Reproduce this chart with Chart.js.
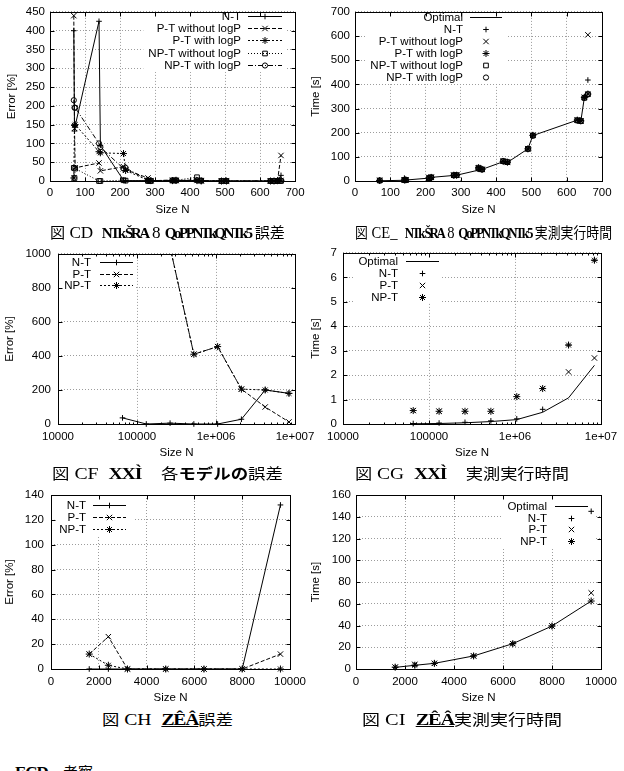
<!DOCTYPE html>
<html><head><meta charset="utf-8">
<script src="https://cdn.jsdelivr.net/npm/chart.js@4.4.0/dist/chart.umd.min.js"></script>
<style>
html,body{margin:0;padding:0;background:#fff;}
body{width:624px;height:771px;position:relative;overflow:hidden;}
canvas{position:absolute;}
.cap{position:absolute;font-family:"Liberation Serif","Noto Sans CJK JP",serif;font-size:17px;line-height:18px;color:#000;white-space:nowrap;transform-origin:0 50%;}
.j{font-family:"Noto Sans CJK JP",sans-serif;font-size:15px;}
.g{font-weight:bold;letter-spacing:-1px;}
.n{font-weight:bold;letter-spacing:-2.5px;font-size:15px;}
</style></head><body>
<canvas id="c1" width="312" height="217" style="left:0;top:0"></canvas>
<canvas id="c2" width="315" height="217" style="left:309px;top:0"></canvas>
<canvas id="c3" width="330" height="220" style="left:0;top:240px"></canvas>
<canvas id="c4" width="315" height="220" style="left:309px;top:240px"></canvas>
<canvas id="c5" width="312" height="225" style="left:0;top:480px"></canvas>
<canvas id="c6" width="315" height="225" style="left:309px;top:480px"></canvas>

<div class="cap" data-x="50" data-w="235" style="top:223px"><span class="j">図</span> CD&ensp;<span class="n">NTk ŠRA</span> 8 <span class="n">QoPPNTkQNTk5</span> <span class="j">誤差</span></div>
<div class="cap" data-x="355" data-w="257" style="top:223px"><span class="j">図</span> CE_&ensp;<span class="n">NTk ŠRA</span> 8 <span class="n">QoPPNTkQNTk5</span> <span class="j">実測実行時間</span></div>
<div class="cap" data-x="52" data-w="231" style="top:464px"><span class="j">図</span> CF&ensp;<span class="g">XXÌ</span>&emsp;<span class="j">各<b>モデルの</b>誤差</span></div>
<div class="cap" data-x="355" data-w="214" style="top:464px"><span class="j">図</span> CG&ensp;<span class="g">XXÌ</span>&emsp;<span class="j">実測実行時間</span></div>
<div class="cap" data-x="102" data-w="131" style="top:710px"><span class="j">図</span> CH&ensp;<span class="g"><u>ZÊÂ</u></span><span class="j">誤差</span></div>
<div class="cap" data-x="362" data-w="200" style="top:710px"><span class="j">図</span> CI&ensp;<span class="g"><u>ZÊÂ</u></span><span class="j">実測実行時間</span></div>
<div style="position:absolute;left:15px;top:764px;font-size:15px;line-height:16px;white-space:nowrap;"><span class="g" style="font-family:'Liberation Serif',serif;font-size:17px">ECD</span>&emsp;<span class="j">考察</span></div>

<script>
// ---------- data ----------
// Figure 1/2 (top row)
const sizeErrA = [68, 70, 72, 140, 144, 210, 216, 280, 288, 350, 360, 420, 432, 490, 504, 630, 640, 650, 660];
const errA_NT    = [400, 133, 147, 425, 95, 2, 1, 1, 0, 1, 1, 1, 0, 0, 0, 0, 0, 1, 15];
const errA_PTwo  = [440, 140, 35, 48, 27, 38, 30, 8, 1, 2, 1, 3, 1, 0, 0, 0, 0, 1, 68];
const errA_PTw   = [8, 148, 150, 78, 75, 73, 28, 2, 1, 1, 2, 1, 0, 0, 0, 0, 0, 1, 2];
const errA_NPTwo = [35, 8, 33, 0, 0, 2, 1, 0, 0, 1, 2, 10, 1, 0, 0, 0, 0, 0, 0];
const errA_NPTw  = [215, 195, 195, 100, 90, 33, 35, 2, 1, 2, 1, 2, 1, 0, 0, 0, 0, 0, 1];

const sizeTimeA = [70, 140, 144, 210, 216, 280, 288, 350, 360, 420, 432, 490, 504, 630, 640, 650, 660];
const timeA_Opt   = [1, 3, 4, 12, 15, 23, 24, 45, 48, 80, 77, 133, 188, 252, 248, 345, 358];
const timeA_NT    = [2, 12, 5, 13, 15, 24, 25, 50, 49, 82, 78, 133, 190, 252, 250, 346, 418];
const timeA_PTwo  = [3, 4, 4, 13, 16, 24, 25, 52, 48, 82, 77, 134, 189, 253, 249, 347, 605];
const timeA_PTw   = [2, 4, 5, 12, 15, 24, 24, 55, 48, 81, 78, 133, 189, 252, 249, 346, 360];
const timeA_NPTwo = [2, 4, 4, 12, 15, 24, 24, 55, 48, 82, 78, 133, 188, 251, 248, 344, 359];
const timeA_NPTw  = [2, 4, 4, 12, 15, 23, 24, 50, 48, 82, 78, 133, 188, 251, 248, 345, 359];

// Figure 3/4 (middle row, log x)
const sizeB = [65536, 131072, 262144, 524288, 1048576, 2097152, 4194304, 8388608];
const errB_NT  = [36, 0, 5, 0, 0, 28, 200, 180];
const errB_PT  = [5400, 1700, 1040, 410, 455, 205, 100, 12];
const errB_NPT = [5400, 1700, 1040, 410, 455, 205, 200, 180];
const timeB_Opt = [0.01, 0.02, 0.05, 0.1, 0.18, 0.48, 1.07, 2.4];
const timeB_NT  = [0.02, 0.04, 0.07, 0.13, 0.21, 0.6, 3.23, 6.7];
const timeB_PT  = [0.55, 0.52, 0.52, 0.52, 1.12, 1.45, 2.13, 2.7];
const timeB_NPT = [0.55, 0.52, 0.52, 0.52, 1.12, 1.45, 3.23, 6.7];
const logTickVals = [1e4, 1e5, 1e6, 1e7];
const logTickLabelsErr  = ['10000', '100000', '1e+006', '1e+007'];
const logTickLabelsTime = ['10000', '100000', '1e+06', '1e+07'];

// Figure 5/6 (bottom row)
const sizeC = [1600, 2400, 3200, 4800, 6400, 8000, 9600];
const errC_NT  = [0, 0, 0, 0, 0, 0, 132];
const errC_PT  = [12, 26, 0, 0, 0, 0, 12];
const errC_NPT = [12, 3, 0, 0, 0, 0, 0];
const timeC_Opt = [1.5, 3.4, 5.2, 12, 23.3, 39.5, 62.5];
const timeC_NT  = [1.5, 3.4, 5.2, 12, 23.3, 39.5, 145];
const timeC_PT  = [1.7, 4.3, 5.2, 12, 23.3, 39.5, 70];
const timeC_NPT = [1.7, 3.5, 5.2, 12, 23.3, 39.5, 62.5];

// ---------- styles ----------
const FAMILY = '"Liberation Sans", Arial, sans-serif';
const FSIZE = 11.5;
const FONT = { family: FAMILY, size: FSIZE };
const FONTSTR = FSIZE + 'px ' + FAMILY;
const INK = '#000';
const GRID = '#9c9c9c';
const R = { cross: 2.8, crossRot: 3.8, star: 3.5, rect: 3.3, circle: 2.6 };
const DASH = { solid: [], dashed: [4, 2], dotted: [2, 2], fine: [1, 2], dashdot: [5, 2, 1, 2] };
const CLIP = { left: 8, right: 8, top: 0, bottom: 8 };

// fit captions to their measured widths in the reference
document.querySelectorAll('.cap').forEach(el => {
  const w = el.getBoundingClientRect().width;
  const k = Math.max(0.7, Math.min(1.25, (+el.dataset.w) / w));
  el.style.left = el.dataset.x + 'px';
  el.style.transform = 'scaleX(' + k + ')';
});

function pts(xs, ys) { return xs.map((x, i) => ({ x: x, y: ys[i] })); }
function lineDS(label, xs, ys, style, dash) {
  return { label, data: pts(xs, ys), showLine: true, borderColor: INK, borderWidth: 1, borderDash: dash,
    pointStyle: style || 'circle', pointRadius: style ? R[style] : 0, pointHoverRadius: 0,
    pointBorderColor: INK, pointBackgroundColor: 'rgba(0,0,0,0)', pointBorderWidth: 1, clip: CLIP, tension: 0 };
}
function pointDS(label, xs, ys, style) {
  return { label, data: pts(xs, ys), showLine: false, borderColor: INK, borderWidth: 1,
    pointStyle: style, pointRadius: R[style], pointHoverRadius: 0,
    pointBorderColor: INK, pointBackgroundColor: 'rgba(0,0,0,0)', pointBorderWidth: 1, clip: CLIP };
}

function mark(ctx, style, x, y, r) {
  const d = r * Math.SQRT1_2;
  ctx.beginPath();
  if (style === 'cross' || style === 'star') { ctx.moveTo(x - r, y); ctx.lineTo(x + r, y); ctx.moveTo(x, y - r); ctx.lineTo(x, y + r); }
  if (style === 'crossRot' || style === 'star') { ctx.moveTo(x - d, y - d); ctx.lineTo(x + d, y + d); ctx.moveTo(x - d, y + d); ctx.lineTo(x + d, y - d); }
  if (style === 'rect') ctx.rect(x - d, y - d, 2 * d, 2 * d);
  if (style === 'circle') ctx.arc(x, y, r, 0, Math.PI * 2);
  ctx.stroke();
}

function gnuPlugin(key, logX) {
  return {
    id: 'gnu',
    beforeDatasetsDraw(chart) {
      const { ctx, chartArea: ca } = chart;
      ctx.save();
      ctx.font = FONTSTR;
      const maxW = Math.max(...chart.data.datasets.map(d => ctx.measureText(d.label).width));
      const left = Math.max(ca.left + 1, key.textRight - maxW - 5);
      ctx.fillStyle = '#fff';
      ctx.fillRect(left, ca.top + 1, key.boxRight - left, key.boxBottom - ca.top - 1);
      ctx.restore();
    },
    afterDatasetsDraw(chart) {
      const ctx = chart.ctx;
      ctx.save();
      ctx.font = FONTSTR;
      ctx.textAlign = 'right';
      ctx.textBaseline = 'middle';
      ctx.fillStyle = INK;
      ctx.strokeStyle = INK;
      ctx.lineWidth = 1;
      chart.data.datasets.forEach((d, i) => {
        const y = Math.round(key.y0 + i * key.dy) + 0.5;
        ctx.fillText(d.label, key.textRight, y);
        if (d.showLine) {
          ctx.setLineDash(d.borderDash || []);
          ctx.beginPath(); ctx.moveTo(key.s0, y); ctx.lineTo(key.s1, y); ctx.stroke();
          ctx.setLineDash([]);
        }
        if (d.pointRadius > 0) mark(ctx, d.pointStyle, (key.s0 + key.s1) / 2, y, d.pointRadius);
      });
      ctx.restore();
    },
    afterDraw(chart) {
      const { ctx, chartArea: ca } = chart;
      const xs = chart.scales.x, ys = chart.scales.y;
      const L = Math.round(ca.left) + 0.5, Rr = Math.round(ca.right) + 0.5;
      const T = Math.round(ca.top) + 0.5, B = Math.round(ca.bottom) + 0.5;
      ctx.save();
      ctx.strokeStyle = INK; ctx.lineWidth = 1; ctx.setLineDash([]);
      ctx.beginPath();
      const xt = (v, len) => { const p = Math.round(xs.getPixelForValue(v)) + 0.5; ctx.moveTo(p, B); ctx.lineTo(p, B - len); ctx.moveTo(p, T); ctx.lineTo(p, T + len); };
      xs.ticks.forEach(t => xt(t.value, 4));
      if (logX) {
        for (let k = 4; k < 7; k++) for (let m = 2; m <= 9; m++) xt(m * Math.pow(10, k), 2);
      }
      ys.ticks.forEach(t => { const p = Math.round(ys.getPixelForValue(t.value)) + 0.5; ctx.moveTo(L, p); ctx.lineTo(L + 4, p); ctx.moveTo(Rr, p); ctx.lineTo(Rr - 4, p); });
      ctx.stroke();
      ctx.strokeRect(L, T, Rr - L, B - T);
      ctx.restore();
    }
  };
}

function build(id, o) {
  const xScale = o.logX ? {
    type: 'logarithmic', min: o.xMin, max: o.xMax,
    afterBuildTicks: s => { s.ticks = logTickVals.map(v => ({ value: v })); },
    ticks: { callback: (v, i) => o.xLabels[i], font: FONT, color: INK, padding: o.xPad, maxRotation: 0, autoSkip: false }
  } : {
    type: 'linear', min: o.xMin, max: o.xMax,
    ticks: { stepSize: o.xStep, callback: v => String(v), font: FONT, color: INK, padding: o.xPad, maxRotation: 0, autoSkip: false }
  };
  Object.assign(xScale, {
    grid: { color: GRID, lineWidth: 1, drawTicks: false },
    border: { display: false, dash: [1, 2] },
    title: { display: true, text: 'Size N', font: FONT, color: INK, padding: 0 },
    afterFit: s => { s.height = 36; }
  });
  const yScale = {
    type: 'linear', min: o.yMin, max: o.yMax,
    ticks: { stepSize: o.yStep, callback: v => String(v), font: FONT, color: INK, padding: o.yPad, autoSkip: false },
    grid: { color: GRID, lineWidth: 1, drawTicks: false },
    border: { display: false, dash: [1, 2] },
    title: { display: true, text: o.yTitle, font: FONT, color: INK, padding: { top: o.yTitlePad, bottom: 0 } },
    afterFit: s => { s.width = o.yW; }
  };
  return new Chart(document.getElementById(id), {
    type: 'scatter',
    data: { datasets: o.datasets },
    options: {
      responsive: false, animation: false, devicePixelRatio: 1,
      layout: { padding: { left: 0, top: o.padTop, right: o.padRight, bottom: 0 } },
      plugins: { legend: { display: false }, tooltip: { enabled: false } },
      events: [],
      scales: { x: xScale, y: yScale }
    },
    plugins: [gnuPlugin(o.key, o.logX)]
  });
}

// ---------- charts ----------
build('c1', {
  xMin: 0, xMax: 700, xStep: 100, yMin: 0, yMax: 450, yStep: 50, yTitle: 'Error [%]',
  yW: 50, padTop: 7, padRight: 17, xPad: 5, yPad: 5, yTitlePad: 5,
  key: { textRight: 241, y0: 16, dy: 12.2, s0: 248, s1: 282, boxRight: 285, boxBottom: 72 },
  datasets: [
    lineDS('N-T', sizeErrA, errA_NT, 'cross', DASH.solid),
    lineDS('P-T without logP', sizeErrA, errA_PTwo, 'crossRot', DASH.dashed),
    lineDS('P-T with logP', sizeErrA, errA_PTw, 'star', DASH.dotted),
    lineDS('NP-T without logP', sizeErrA, errA_NPTwo, 'rect', DASH.fine),
    lineDS('NP-T with logP', sizeErrA, errA_NPTw, 'circle', DASH.dashdot)
  ]
});

build('c2', {
  xMin: 0, xMax: 700, xStep: 100, yMin: 0, yMax: 700, yStep: 100, yTitle: 'Time [s]',
  yW: 46, padTop: 7, padRight: 22, xPad: 5, yPad: 5, yTitlePad: 0,
  key: { textRight: 154, y0: 17, dy: 12, s0: 161, s1: 193, boxRight: 199, boxBottom: 84 },
  datasets: [
    lineDS('Optimal', sizeTimeA, timeA_Opt, null, DASH.solid),
    pointDS('N-T', sizeTimeA, timeA_NT, 'cross'),
    pointDS('P-T without logP', sizeTimeA, timeA_PTwo, 'crossRot'),
    pointDS('P-T with logP', sizeTimeA, timeA_PTw, 'star'),
    pointDS('NP-T without logP', sizeTimeA, timeA_NPTwo, 'rect'),
    pointDS('NP-T with logP', sizeTimeA, timeA_NPTw, 'circle')
  ]
});

build('c3', {
  logX: true, xMin: 1e4, xMax: 1e7, xLabels: logTickLabelsErr, yMin: 0, yMax: 1000, yStep: 200, yTitle: 'Error [%]',
  yW: 58, padTop: 12, padRight: 35, xPad: 6, yPad: 7, yTitlePad: 3,
  key: { textRight: 91, y0: 22, dy: 11.7, s0: 100, s1: 133, boxRight: 136, boxBottom: 50 },
  datasets: [
    lineDS('N-T', sizeB, errB_NT, 'cross', DASH.solid),
    lineDS('P-T', sizeB, errB_PT, 'crossRot', DASH.dashed),
    lineDS('NP-T', sizeB, errB_NPT, 'star', DASH.dotted)
  ]
});

build('c4', {
  logX: true, xMin: 1e4, xMax: 1e7, xLabels: logTickLabelsTime, yMin: 0, yMax: 7, yStep: 1, yTitle: 'Time [s]',
  yW: 34, padTop: 11, padRight: 23, xPad: 6, yPad: 6, yTitlePad: 0,
  key: { textRight: 89, y0: 21, dy: 12, s0: 97, s1: 130, boxRight: 133, boxBottom: 62 },
  datasets: [
    lineDS('Optimal', sizeB, timeB_Opt, null, DASH.solid),
    pointDS('N-T', sizeB, timeB_NT, 'cross'),
    pointDS('P-T', sizeB, timeB_PT, 'crossRot'),
    pointDS('NP-T', sizeB, timeB_NPT, 'star')
  ]
});

build('c5', {
  xMin: 0, xMax: 10000, xStep: 2000, yMin: 0, yMax: 140, yStep: 20, yTitle: 'Error [%]',
  yW: 51, padTop: 15, padRight: 17, xPad: 6, yPad: 7, yTitlePad: 3,
  key: { textRight: 86, y0: 25, dy: 12, s0: 93, s1: 126, boxRight: 133, boxBottom: 56 },
  datasets: [
    lineDS('N-T', sizeC, errC_NT, 'cross', DASH.solid),
    lineDS('P-T', sizeC, errC_PT, 'crossRot', DASH.dashed),
    lineDS('NP-T', sizeC, errC_NPT, 'star', DASH.dotted)
  ]
});

build('c6', {
  xMin: 0, xMax: 10000, xStep: 2000, yMin: 0, yMax: 160, yStep: 20, yTitle: 'Time [s]',
  yW: 47, padTop: 15, padRight: 23, xPad: 6, yPad: 5, yTitlePad: 0,
  key: { textRight: 238, y0: 26, dy: 11.7, s0: 246, s1: 279, boxRight: 286, boxBottom: 67 },
  datasets: [
    lineDS('Optimal', sizeC, timeC_Opt, null, DASH.solid),
    pointDS('N-T', sizeC, timeC_NT, 'cross'),
    pointDS('P-T', sizeC, timeC_PT, 'crossRot'),
    pointDS('NP-T', sizeC, timeC_NPT, 'star')
  ]
});
</script>
</body></html>
